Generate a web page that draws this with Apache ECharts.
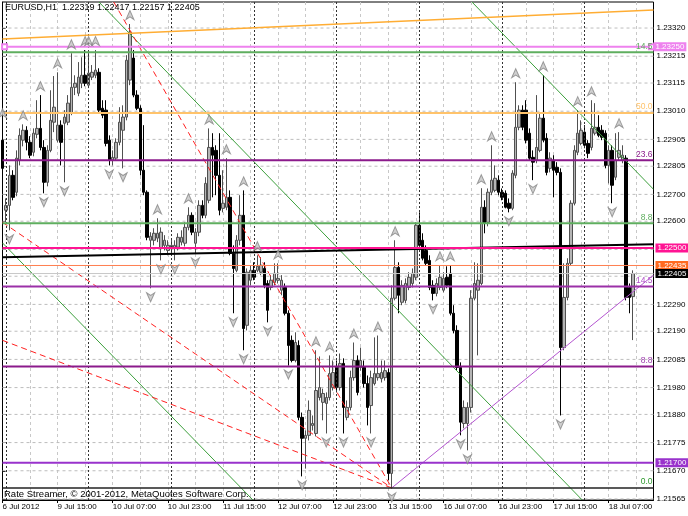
<!DOCTYPE html>
<html><head><meta charset="utf-8">
<script src="https://cdn.jsdelivr.net/npm/echarts@6/dist/echarts.min.js"></script>
<style>html,body{margin:0;padding:0;background:#fff}#c{width:688px;height:516px}</style>
</head><body><div id="c"></div>
<script>
// ---------- data ----------
const openP=[1.22902,1.22641,1.22659,1.22771,1.22708,1.22827,1.22902,1.22939,1.22894,1.22857,
1.22924,1.22946,1.22875,1.22745,1.22864,1.22969,1.22902,1.22958,1.22965,1.22969,
1.23003,1.23099,1.23077,1.23114,1.23144,1.23107,1.23137,1.23144,1.23155,1.23021,
1.23014,1.22902,1.22827,1.22835,1.22894,1.22939,1.22988,1.23126,1.23208,1.23070,
1.23021,1.22790,1.22708,1.22529,1.22529,1.22537,1.22499,1.22510,1.22491,1.22499,
1.22499,1.22503,1.22522,1.22518,1.22577,1.22622,1.22518,1.22559,1.22659,1.22622,
1.22678,1.22875,1.22864,1.22771,1.22648,1.22652,1.22689,1.22480,1.22417,1.22529,
1.22622,1.22212,1.22380,1.22417,1.22417,1.22410,1.22424,1.22368,1.22353,1.22372,
1.22380,1.22343,1.22353,1.22257,1.22156,1.22081,1.22137,1.21869,1.21791,1.21802,
1.21839,1.21809,1.21943,1.21925,1.21921,1.21943,1.21980,1.22055,1.21980,1.22070,
1.21869,1.21906,1.22017,1.22081,1.22055,1.22055,1.21995,1.21913,1.21995,1.22017,
1.22013,1.22017,1.22036,1.21660,1.22313,1.22428,1.22298,1.22305,1.22353,1.22368,
1.22391,1.22585,1.22529,1.22491,1.22454,1.22361,1.22331,1.22353,1.22343,1.22391,
1.22406,1.22257,1.22193,1.22055,1.21846,1.21846,1.21906,1.22313,1.22343,1.22368,
1.22652,1.22596,1.22708,1.22715,1.22753,1.22708,1.22704,1.22667,1.22648,1.22771,
1.22950,1.23014,1.23014,1.22928,1.22838,1.22827,1.22864,1.22984,1.22909,1.22797,
1.22827,1.22801,1.22782,1.22129,1.22316,1.22443,1.22667,1.22857,1.22890,1.22932,
1.22890,1.22875,1.22928,1.22950,1.22939,1.22928,1.22808,1.22864,1.22764,1.22838,
1.22827,1.22835,1.22353,1.22319];
const highP=[1.22969,1.22685,1.22808,1.22790,1.22864,1.22946,1.22961,1.22954,1.22917,1.22946,
1.23051,1.23070,1.22902,1.22883,1.23088,1.23141,1.23155,1.22976,1.23014,1.23070,
1.23226,1.23144,1.23193,1.23211,1.23238,1.23238,1.23182,1.23238,1.23170,1.23051,
1.23051,1.22920,1.22864,1.22909,1.23025,1.23032,1.23219,1.23335,1.23238,1.23088,
1.23032,1.22958,1.22715,1.22559,1.22574,1.22611,1.22577,1.22548,1.22529,1.22537,
1.22529,1.22555,1.22566,1.22596,1.22652,1.22633,1.22574,1.22678,1.22678,1.22764,
1.22946,1.22928,1.22883,1.22928,1.22790,1.22835,1.22715,1.22510,1.22548,1.22697,
1.22715,1.22424,1.22436,1.22447,1.22473,1.22466,1.22447,1.22380,1.22399,1.22443,
1.22443,1.22399,1.22368,1.22268,1.22174,1.22186,1.22156,1.21887,1.21820,1.21932,
1.21876,1.22119,1.22096,1.21976,1.21962,1.22100,1.22081,1.22081,1.22107,1.22089,
1.21932,1.22043,1.22148,1.22100,1.22129,1.22081,1.22025,1.22043,1.22167,1.22174,
1.22081,1.22081,1.22051,1.22361,1.22529,1.22447,1.22380,1.22387,1.22410,1.22424,
1.22596,1.22633,1.22555,1.22510,1.22473,1.22380,1.22387,1.22436,1.22410,1.22432,
1.22436,1.22287,1.22212,1.22074,1.21932,1.21925,1.22343,1.22447,1.22443,1.22723,
1.22678,1.22722,1.22883,1.22808,1.22771,1.22722,1.22715,1.22685,1.22790,1.23118,
1.23032,1.23032,1.23051,1.22946,1.22864,1.23070,1.23006,1.23144,1.22928,1.22857,
1.22846,1.22820,1.22797,1.22443,1.22462,1.22678,1.22883,1.23014,1.22976,1.22958,
1.22902,1.23051,1.23040,1.22995,1.22958,1.22939,1.22883,1.22883,1.22928,1.22932,
1.22883,1.22846,1.22368,1.22417];
const lowP=[1.22782,1.22596,1.22566,1.22678,1.22693,1.22808,1.22879,1.22864,1.22835,1.22842,
1.22909,1.22864,1.22704,1.22730,1.22857,1.22932,1.22894,1.22808,1.22745,1.22958,
1.22995,1.23070,1.23066,1.23096,1.23103,1.23096,1.23126,1.23133,1.23006,1.22984,
1.22879,1.22808,1.22808,1.22827,1.22883,1.22797,1.22976,1.23107,1.23062,1.23014,
1.22771,1.22697,1.22529,1.22350,1.22510,1.22522,1.22454,1.22491,1.22473,1.22473,
1.22454,1.22491,1.22510,1.22506,1.22566,1.22548,1.22480,1.22544,1.22611,1.22611,
1.22667,1.22689,1.22697,1.22622,1.22633,1.22641,1.22473,1.22257,1.22410,1.22510,
1.22119,1.22193,1.22361,1.22380,1.22410,1.22399,1.22350,1.22223,1.22343,1.22361,
1.22368,1.22324,1.22249,1.22062,1.22074,1.22074,1.21858,1.21649,1.21678,1.21783,
1.21820,1.21798,1.21932,1.21858,1.21809,1.21932,1.21969,1.21962,1.21969,1.21809,
1.21858,1.21895,1.22006,1.21951,1.22043,1.21980,1.21839,1.21809,1.21988,1.22006,
1.21999,1.22006,1.21634,1.21604,1.22305,1.22257,1.22287,1.22294,1.22343,1.22353,
1.22380,1.22499,1.22454,1.22436,1.22343,1.22305,1.22320,1.22343,1.22335,1.22350,
1.22249,1.22182,1.22043,1.21802,1.21828,1.21746,1.21887,1.22305,1.22100,1.22361,
1.22555,1.22581,1.22697,1.22708,1.22697,1.22678,1.22648,1.22633,1.22641,1.22760,
1.22939,1.22939,1.22890,1.22827,1.22753,1.22816,1.22857,1.22894,1.22771,1.22782,
1.22689,1.22771,1.21876,1.22119,1.22305,1.22436,1.22659,1.22846,1.22883,1.22872,
1.22835,1.22864,1.22920,1.22913,1.22902,1.22797,1.22741,1.22667,1.22753,1.22827,
1.22816,1.22305,1.22257,1.22157];
const closeP=[1.22797,1.22659,1.22771,1.22689,1.22835,1.22920,1.22939,1.22894,1.22846,1.22928,
1.22946,1.22875,1.22745,1.22864,1.22976,1.23025,1.22958,1.22894,1.22988,1.23040,
1.23099,1.23114,1.23137,1.23144,1.23114,1.23152,1.23155,1.23163,1.23014,1.22995,
1.22890,1.22827,1.22838,1.22894,1.22969,1.22988,1.23200,1.23305,1.23070,1.23021,
1.22790,1.22708,1.22540,1.22544,1.22555,1.22555,1.22559,1.22529,1.22510,1.22510,
1.22510,1.22540,1.22540,1.22577,1.22622,1.22559,1.22559,1.22659,1.22622,1.22741,
1.22875,1.22846,1.22771,1.22641,1.22667,1.22689,1.22480,1.22424,1.22529,1.22622,
1.22200,1.22410,1.22417,1.22391,1.22432,1.22436,1.22361,1.22268,1.22380,1.22406,
1.22387,1.22380,1.22257,1.22137,1.22081,1.22148,1.21869,1.21791,1.21802,1.21895,
1.21846,1.21969,1.21980,1.21958,1.21943,1.22032,1.22036,1.21980,1.22070,1.21906,
1.21906,1.22017,1.22081,1.21962,1.22081,1.21995,1.21906,1.22017,1.22032,1.22032,
1.22036,1.22043,1.21660,1.22313,1.22428,1.22324,1.22361,1.22368,1.22391,1.22406,
1.22585,1.22510,1.22462,1.22443,1.22353,1.22331,1.22368,1.22391,1.22387,1.22361,
1.22257,1.22193,1.22055,1.21851,1.21906,1.21906,1.22313,1.22368,1.22380,1.22652,
1.22592,1.22708,1.22753,1.22760,1.22708,1.22689,1.22652,1.22648,1.22779,1.22950,
1.23014,1.22950,1.22902,1.22835,1.22820,1.22875,1.22984,1.22902,1.22782,1.22835,
1.22790,1.22782,1.22129,1.22316,1.22443,1.22667,1.22864,1.22928,1.22939,1.22883,
1.22853,1.22946,1.22950,1.22920,1.22913,1.22808,1.22864,1.22734,1.22827,1.22864,
1.22846,1.22316,1.22316,1.22405];

// fractal arrows [bar, price]
const upFractals=[[0,1.22969],[6,1.22961],[11,1.23070],[16,1.23155],[20,1.23226],[24,1.23238],[25,1.23238],[27,1.23238],
[37,1.23335],[45,1.22611],[54,1.22652],[60,1.22946],[65,1.22835],[70,1.22715],[74,1.22473],[80,1.22443],[91,1.22119],
[95,1.22100],[102,1.22148],[109,1.22174],[114,1.22529],[127,1.22436],[130,1.22436],[139,1.22723],[142,1.22883],
[149,1.23118],[157,1.23144],[167,1.23014],[171,1.23051],[179,1.22932]];
const downFractals=[[2,1.22566],[12,1.22704],[18,1.22745],[31,1.22808],[35,1.22797],[43,1.22350],[46,1.22454],[50,1.22454],
[56,1.22480],[67,1.22257],[70,1.22119],[77,1.22223],[83,1.22062],[87,1.21649],[94,1.21809],[99,1.21809],[107,1.21809],
[113,1.21604],[125,1.22305],[133,1.21802],[135,1.21746],[147,1.22633],[154,1.22753],[162,1.21876],[177,1.22667]];

// time axis
const firstBar='6 Jul 23:00';
const tradingDays=['9 Jul','10 Jul','11 Jul','12 Jul','13 Jul','16 Jul','17 Jul','18 Jul'];
const lastDayHours=15;
const firstLabel='6 Jul 2012';

// price axis tick labels
const yTickValues=[1.21565,1.21670,1.21775,1.21880,1.21980,1.22085,1.22190,1.22290,1.22395,1.22495,1.22600,1.22700,1.22805,1.22905,1.23010,1.23115,1.23215,1.23320];
const yMin=1.21561, yMax=1.23417;

// horizontal objects
const levelPrices=[1.23250,1.23230,1.23003,1.22827,1.22592,1.22500,1.22435,1.22405,1.22357,1.22059,1.21700,1.21606];
const levelTexts =['1.23250','14.5','50.0','23.6','8.8','1.22500','1.22435','1.22405','14.5','8.8','1.21700','0.0'];

// trend lines [bar, price]
const orangeTrend=[[0,1.23279],[189,1.23387]];
const blackTrend=[[0,1.22466],[189,1.22514]];
const greenLine1=[[28.0,1.23417],[168.3,1.21561]];
const greenLine2=[[136.3,1.23417],[189,1.22719]];
const greenLine3=[[0,1.22519],[72.7,1.21561]];
const redFan1=[[32.3,1.23417],[113,1.21606]];
const redFan2=[[0,1.22596],[113,1.21606]];
const redFan3=[[0,1.22156],[113,1.21606]];
const violetTrend=[[113,1.21606],[189,1.22399]];

const titleText='EURUSD,H1  1.22319 1.22417 1.22157 1.22405';
const footerText='Rate Streamer, \u00A9 2001-2012, MetaQuotes Software Corp.';

// ---------- build ----------
const XMAX=189;
const cats=[firstBar];
tradingDays.forEach((d,k)=>{const n=k===tradingDays.length-1?lastDayHours:24;for(let h=0;h<n;h++)cats.push(d+' '+String(h).padStart(2,'0')+':00');});
while(cats.length<XMAX+1)cats.push('pad'+cats.length);
const separators=cats.filter(c=>/ 00:00$/.test(c));

const candles=openP.map((o,i)=>[o,closeP[i],lowP[i],highP[i]]);
const FONT='Liberation Sans';

const levelStyles=[
 {color:'#ee82ee',width:2,tag:true,symbol:true},
 {color:'#5fae5f',width:2},
 {color:'#ffc36b',width:2},
 {color:'#8b1a8b',width:2},
 {color:'#5fae5f',width:2},
 {color:'#ff1493',width:2,tag:true},
 {color:'#ff7f50',width:1,tag:true,tagColor:'#ff6a20'},
 {color:'#c8c8c8',width:1,tag:true,tagColor:'#000'},
 {color:'#9b30a8',width:2,textColor:'#b04fc8'},
 {color:'#8b1a8b',width:2,textColor:'#a040b0'},
 {color:'#9932cc',width:2,tag:true},
 {color:'#222',width:1.5,textColor:'#2e9a2e'}
];

const series=[];
// horizontal dashed grid
yTickValues.forEach(v=>{
 series.push({type:'line',xAxisIndex:1,data:[[0,v],[XMAX,v]],symbol:'none',showSymbol:false,silent:true,z:1,
  lineStyle:{color:'#bdbdbd',width:1,type:[3,3]}});
});
// day separators
series.push({type:'line',xAxisIndex:0,data:[],silent:true,z:2,
 markLine:{silent:true,symbol:'none',animation:false,label:{show:false},
  lineStyle:{color:'#333',type:[2,2],width:1},data:separators.map(c=>({xAxis:c}))}});
// candles
series.push({type:'candlestick',xAxisIndex:0,data:candles,barWidth:3,z:3,silent:true,
 itemStyle:{color:'#b4b4b4',color0:'#000',borderColor:'#505050',borderColor0:'#000',borderWidth:1}});

function trend(data,color,width,type,z){
 return {type:'line',xAxisIndex:1,data:data,showSymbol:false,symbol:'none',silent:true,z:z||6,
  lineStyle:{color:color,width:width,type:type||'solid'},clip:true};
}
series.push(trend(greenLine1,'#3c9f3c',1));
series.push(trend(greenLine2,'#3c9f3c',1));
series.push(trend(greenLine3,'#3c9f3c',1));
series.push(trend(redFan1,'#ff2020',1,[6,4]));
series.push(trend(redFan2,'#ff2020',1,[6,4]));
series.push(trend(redFan3,'#ff2020',1,[6,4]));
series.push(trend(violetTrend,'#b455d0',1));
series.push(trend(orangeTrend,'#ffad33',1.5));
series.push(trend(blackTrend,'#000',2));

// horizontal level lines
levelPrices.forEach((p,i)=>{
 const s=levelStyles[i];
 const s0={type:'line',xAxisIndex:1,silent:true,z:7,clip:false,
  lineStyle:{color:s.color,width:s.width},
  symbol:s.symbol?'emptyRect':'circle',symbolSize:s.symbol?5:0,showSymbol:true,
  itemStyle:s.symbol?{color:s.color,borderColor:s.color,borderWidth:1}:{color:'rgba(0,0,0,0)',borderColor:'rgba(0,0,0,0)',borderWidth:0},
  data:[[0,p],[XMAX,p]]};
 if(s.symbol){s0.data=[[0.6,p],[XMAX-0.6,p]];}
 if(s.tag){
  s0.endLabel={show:true,formatter:levelTexts[i],distance:2,color:'#fff',
   backgroundColor:s.tagColor||s.color,padding:[1,2,0,2],fontSize:8,fontFamily:FONT};
 }else{
  s0.data=[{value:[0,p]},{value:[XMAX,p],label:{show:true,position:'left',distance:1,offset:[0,-6],
   formatter:levelTexts[i],color:s.textColor||s.color,fontSize:8.5,fontFamily:FONT}}];
 }
 series.push(s0);
});

// fractal arrows
series.push({type:'scatter',xAxisIndex:1,data:upFractals,silent:true,z:8,
 symbol:'path://M5,0 L10,10 L5,7 L0,10 Z',symbolSize:[8,9],symbolOffset:[0,-9],
 itemStyle:{color:'#c4c4c4',borderColor:'#858585',borderWidth:1}});
series.push({type:'scatter',xAxisIndex:1,data:downFractals,silent:true,z:8,
 symbol:'path://M0,0 L5,3 L10,0 L5,10 Z',symbolSize:[8,9],symbolOffset:[0,9],
 itemStyle:{color:'#c4c4c4',borderColor:'#858585',borderWidth:1}});

const chart=echarts.init(document.getElementById('c'),null,{renderer:'canvas'});
chart.setOption({
 animation:false,
 backgroundColor:'#fff',
 grid:{left:2.5,right:34.5,top:2,bottom:16,show:true,borderColor:'#000',borderWidth:1,containLabel:false,outerBoundsMode:'none'},
 xAxis:[{
  type:'category',data:cats,boundaryGap:false,
  axisLine:{show:true,lineStyle:{color:'#000',width:1}},
  axisTick:{show:true,interval:15,length:3,lineStyle:{color:'#000'}},
  axisLabel:{interval:15,align:'left',fontSize:8,fontFamily:FONT,color:'#000',margin:3,
   formatter:(v,i)=>i===0?firstLabel:v},
  splitLine:{show:true,interval:7,lineStyle:{color:'#c8c8c8',type:[3,3],width:1}}
 },{
  type:'value',min:0,max:XMAX,show:false,splitLine:{show:false}
 }],
 yAxis:{
  type:'value',position:'right',min:yMin,max:yMax,scale:true,
  axisLine:{show:true,lineStyle:{color:'#000'}},
  axisTick:{show:true,customValues:yTickValues,length:3,lineStyle:{color:'#000'}},
  axisLabel:{customValues:yTickValues,formatter:v=>v.toFixed(5),fontSize:8,fontFamily:FONT,color:'#000',margin:3},
  splitLine:{show:false}
 },
 graphic:[
  {type:'text',left:5,top:3,z:100,style:{text:titleText,font:'9px "Liberation Sans"',fill:'#000'}},
  {type:'text',left:4,top:489,z:100,style:{text:footerText,font:'9.5px "Liberation Sans"',fill:'#000'}}
 ],
 series:series
});
</script></body></html>
